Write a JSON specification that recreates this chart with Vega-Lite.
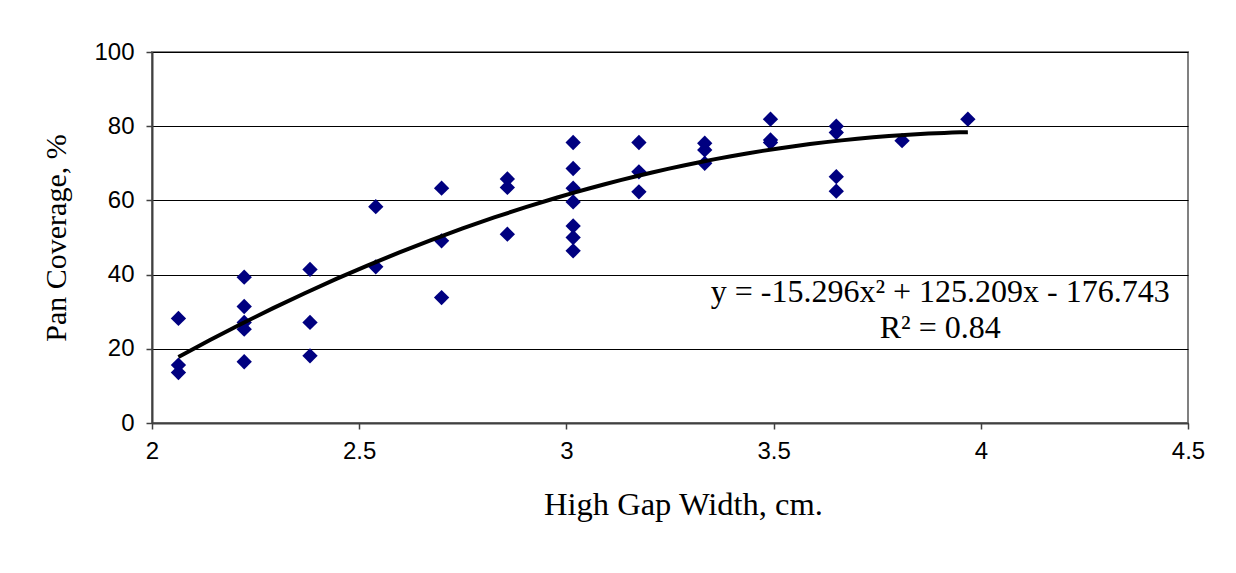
{
  "$schema": "https://vega.github.io/schema/vega-lite/v6.json",
  "width": 1036,
  "height": 371,
  "autosize": {"type": "none"},
  "padding": {"left": 152, "top": 52, "right": 48, "bottom": 150},
  "background": "white",
  "config": {
    "view": {"stroke": "#808080", "strokeWidth": 2},
    "axis": {"labelColor": "black", "titleColor": "black", "domainColor": "#404040", "domainWidth": 2, "tickColor": "#404040", "tickSize": 6, "tickWidth": 1.5, "gridColor": "#000000", "gridWidth": 1}
  },
  "data": {
    "values": [
      {"gap": 2.0638, "coverage": 28.2}, {"gap": 2.0638, "coverage": 15.6}, {"gap": 2.0638, "coverage": 13.6},
      {"gap": 2.2225, "coverage": 39.3}, {"gap": 2.2225, "coverage": 31.4}, {"gap": 2.2225, "coverage": 27.1}, {"gap": 2.2225, "coverage": 25.3}, {"gap": 2.2225, "coverage": 16.5},
      {"gap": 2.3813, "coverage": 41.4}, {"gap": 2.3813, "coverage": 27.1}, {"gap": 2.3813, "coverage": 18.1},
      {"gap": 2.54, "coverage": 58.3}, {"gap": 2.54, "coverage": 42.1},
      {"gap": 2.6988, "coverage": 63.3}, {"gap": 2.6988, "coverage": 49.1}, {"gap": 2.6988, "coverage": 33.8},
      {"gap": 2.8575, "coverage": 65.8}, {"gap": 2.8575, "coverage": 63.5}, {"gap": 2.8575, "coverage": 50.9},
      {"gap": 3.0163, "coverage": 75.6}, {"gap": 3.0163, "coverage": 68.6}, {"gap": 3.0163, "coverage": 63.3}, {"gap": 3.0163, "coverage": 59.6}, {"gap": 3.0163, "coverage": 53.1}, {"gap": 3.0163, "coverage": 50.0}, {"gap": 3.0163, "coverage": 46.4},
      {"gap": 3.175, "coverage": 75.6}, {"gap": 3.175, "coverage": 67.7}, {"gap": 3.175, "coverage": 62.3},
      {"gap": 3.3338, "coverage": 75.4}, {"gap": 3.3338, "coverage": 73.6}, {"gap": 3.3338, "coverage": 70.0},
      {"gap": 3.4925, "coverage": 81.9}, {"gap": 3.4925, "coverage": 76.3}, {"gap": 3.4925, "coverage": 75.6},
      {"gap": 3.6513, "coverage": 80.0}, {"gap": 3.6513, "coverage": 78.3}, {"gap": 3.6513, "coverage": 66.4}, {"gap": 3.6513, "coverage": 62.5},
      {"gap": 3.81, "coverage": 76.1},
      {"gap": 3.9688, "coverage": 81.9}
    ]
  },
  "layer": [
    {
      "mark": {"type": "point", "shape": "diamond", "filled": true, "color": "#000080", "size": 235, "opacity": 1},
      "encoding": {
        "x": {"field": "gap", "type": "quantitative", "scale": {"domain": [2, 4.5], "nice": false},
          "axis": {"values": [2, 2.5, 3, 3.5, 4, 4.5], "format": "~g", "grid": false, "title": "High Gap Width, cm.", "labelFont": "Liberation Sans", "labelFontSize": 24, "labelPadding": 10, "titleFont": "Liberation Serif", "titleFontSize": 32.5, "titleFontWeight": "normal", "titlePadding": 25, "titleX": 531, "labelFlush": false}},
        "y": {"field": "coverage", "type": "quantitative", "scale": {"domain": [0, 100], "nice": false},
          "axis": {"values": [0, 20, 40, 60, 80, 100], "grid": true, "title": "Pan Coverage, %", "labelFont": "Liberation Sans", "labelFontSize": 24, "labelPadding": 12, "titleFont": "Liberation Serif", "titleFontSize": 30, "titleFontWeight": "normal", "titlePadding": 22}}
      }
    },
    {
      "transform": [{"regression": "coverage", "on": "gap", "method": "poly", "order": 2, "extent": [2.0638, 3.9688]}],
      "mark": {"type": "line", "color": "black", "strokeWidth": 4},
      "encoding": {
        "x": {"field": "gap", "type": "quantitative"},
        "y": {"field": "coverage", "type": "quantitative"}
      }
    },
    {
      "data": {"values": [{"label": "y = -15.296x² + 125.209x  - 176.743"}]},
      "mark": {"type": "text", "font": "Liberation Serif", "fontSize": 32, "align": "center", "baseline": "alphabetic", "color": "black"},
      "encoding": {
        "x": {"datum": 3.902},
        "y": {"datum": 32.6},
        "text": {"field": "label"}
      }
    },
    {
      "data": {"values": [{"label": "R² = 0.84"}]},
      "mark": {"type": "text", "font": "Liberation Serif", "fontSize": 32, "align": "center", "baseline": "alphabetic", "color": "black"},
      "encoding": {
        "x": {"datum": 3.902},
        "y": {"datum": 22.9},
        "text": {"field": "label"}
      }
    }
  ]
}
